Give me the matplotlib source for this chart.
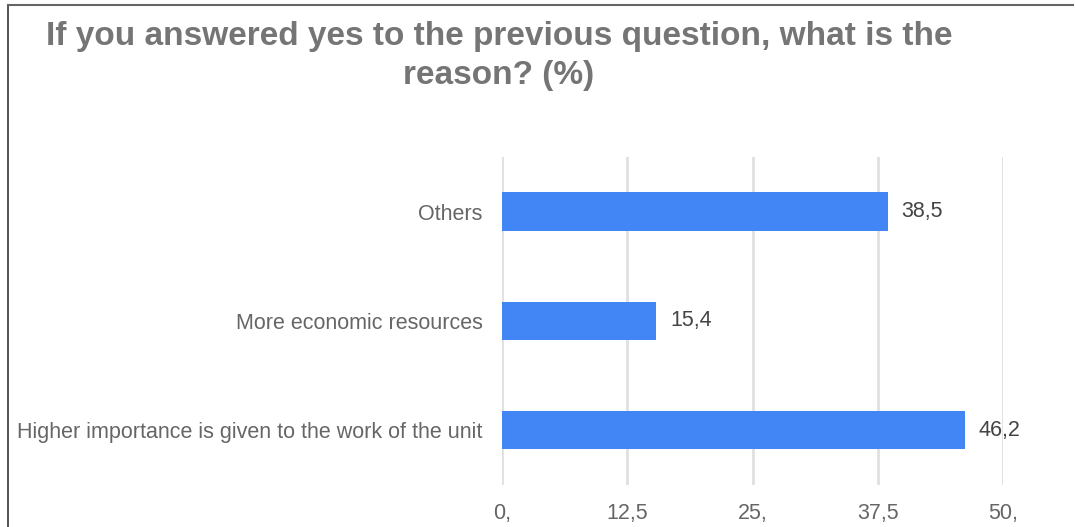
import matplotlib.pyplot as plt
from matplotlib.lines import Line2D

categories = ["Higher importance is given to the work of the unit",
              "More economic resources",
              "Others"]
values = [46.2, 15.4, 38.5]
value_labels = ["46,2", "15,4", "38,5"]
xticks = [0, 12.5, 25, 37.5, 50]
xtick_labels = ["0,", "12,5", "25,", "37,5", "50,"]

plt.rcParams['font.family'] = ['Liberation Sans', 'DejaVu Sans']

fig = plt.figure(figsize=(10.75, 5.27), dpi=100)
ax = fig.add_axes([0.467, 0.0797, 0.466, 0.6225])

ax.barh(range(len(categories)), values, height=0.35, color="#4285f4", zorder=3)
for i, v in enumerate(values):
    ax.annotate(value_labels[i], (v, i), xytext=(10, 0), textcoords="offset points",
                va="center", ha="left", fontsize=15.5, color="#444444")

ax.set_xlim(0, 50)
ax.set_ylim(-0.5, 2.5)
ax.set_xticks(xticks)
ax.set_xticklabels(xtick_labels, fontsize=15.5, color="#666666")
ax.set_yticks(range(len(categories)))
ax.set_yticklabels(categories, fontsize=15.5, color="#666666")
ax.tick_params(axis="both", length=0)
ax.tick_params(axis="x", pad=13)
ax.tick_params(axis="y", pad=14)
ax.grid(axis="x", color="#e0e0e0", linewidth=2, zorder=0)
for s in ax.spines.values():
    s.set_visible(False)

fig.text(0.464, 0.893, "If you answered yes to the previous question, what is the\nreason? (%)",
         ha="center", va="center", fontsize=24, fontweight="bold", color="#757575",
         linespacing=1.33)

# frame lines on top and left
fig.add_artist(Line2D([8/1075, 8/1075], [0, 1 - 5/527], transform=fig.transFigure,
                      color="#333333", linewidth=1.2))
fig.add_artist(Line2D([8/1075, 1073/1075], [1 - 5/527, 1 - 5/527], transform=fig.transFigure,
                      color="#666666", linewidth=1.5))

plt.savefig("out.png", dpi=100)
plt.close()
